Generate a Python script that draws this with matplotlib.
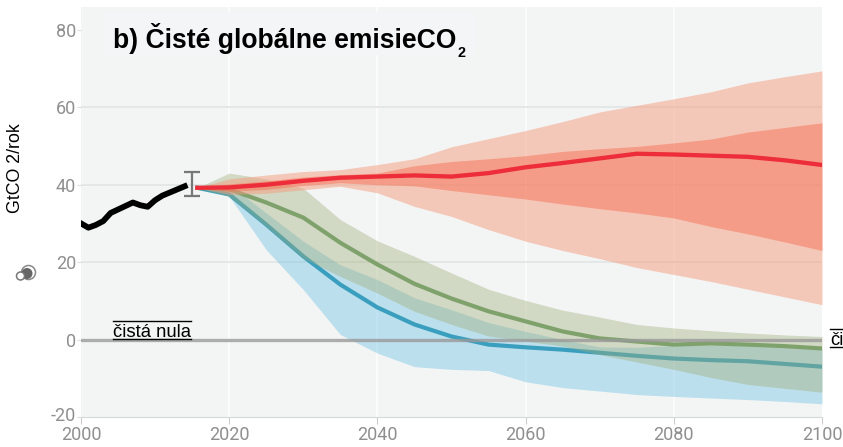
import matplotlib
matplotlib.use('Agg')
import matplotlib.pyplot as plt
from matplotlib.patches import Circle, Rectangle
from matplotlib.transforms import ScaledTranslation

plt.rcParams['axes.unicode_minus'] = False

# historical
hist_years = list(range(2000, 2015))
hist_vals = [30, 28.9, 29.6, 30.6, 32.7, 33.6, 34.5, 35.4, 34.7, 34.3, 36, 37.2, 38, 38.8, 39.6]

# scenarios, start + every 5 years
years = [2015.7] + list(range(2020, 2101, 5))

red_mid = [39.2, 39.3, 40, 41, 41.8, 42.1, 42.4, 42.1, 43, 44.5, 45.6, 46.8, 48, 47.8, 47.5, 47.2, 46.3, 45.1]
red_hi = [39.2, 41.5, 42.5, 43.4, 43.9, 45.2, 46.7, 49.8, 51.9, 54, 56.3, 58.8, 60.5, 62.2, 64, 66.3, 67.9, 69.4]
red_lo = [39.2, 37.5, 37.8, 38.7, 39.6, 37.9, 34.4, 31.8, 28.4, 25.4, 23, 20.9, 18.6, 16.8, 15, 13, 11, 9]
red_hi2 = [39.2, 40.2, 41, 42, 42.6, 43, 44.9, 46, 46.7, 47.5, 48.6, 49.3, 49.9, 50.8, 51.8, 53.6, 54.8, 56]
red_lo2 = [39.2, 38.3, 38.8, 39.8, 40.5, 40, 39.7, 38.5, 37.4, 36.3, 35, 33.8, 32.7, 31.4, 29.2, 27.3, 25.2, 23]

green_mid = [39.2, 38.8, 35.4, 31.5, 25, 19.4, 14.4, 10.6, 7.3, 4.7, 2.1, 0.3, -0.5, -1.3, -1, -1.3, -1.7, -2.3]
green_hi = [39.2, 43, 41.5, 39.1, 31, 25.5, 21.5, 17.2, 13, 10.1, 7.6, 5.8, 3.9, 3, 2.3, 1.7, 1.2, 0.8]
green_lo = [39.2, 37, 29.2, 21, 16.3, 12, 7.3, 3.9, 0.9, -0.4, -1.7, -3.9, -5.8, -7.7, -9.8, -11.6, -12.6, -13.6]

blue_mid = [39.2, 37.5, 29.7, 21.5, 14.2, 8.3, 3.9, 0.8, -1.3, -2, -2.6, -3.4, -4.2, -4.9, -5.3, -5.6, -6.3, -7]
blue_hi = [39.2, 40, 32.7, 25.4, 19.3, 15.5, 10.8, 7.7, 4.4, 2.1, 0, -1.9, -2, -1.5, -1.5, -1.5, -2, -2.5]
blue_lo = [39.2, 37, 23.2, 12.9, 1.3, -3.5, -7, -7.7, -8, -10.9, -12.4, -13.3, -14.2, -14.7, -15.1, -15.5, -16, -16.6]

err_year = 2015
err_lo = 37
err_hi = 43.4

x_ticks = [2000, 2020, 2040, 2060, 2080, 2100]
y_ticks = [-20, 0, 20, 40, 60, 80]

bg = '#f3f5f5'
W, H = 843, 447

fig = plt.figure(figsize=(W / 100, H / 100), dpi=100)
ax = fig.add_axes([81 / W, (H - 417) / H, 741 / W, 410 / H], facecolor=bg)
ax.set_xlim(2000, 2100)
ax.set_ylim(-19.9, 85.9)

for x in x_ticks[1:-1]:
    ax.axvline(x, color='#fbfbfb', lw=1.5, zorder=1)
for y in [20, 40, 60]:
    ax.axhline(y, color='#e2e5e5', lw=1.2, zorder=1)

ax.fill_between(years, blue_lo, blue_hi, color='#6bbee3', alpha=0.4, lw=0, zorder=2)
ax.plot(years, blue_mid, color='#3a9fbe', lw=3, solid_joinstyle='miter', zorder=3)
ax.fill_between(years, green_lo, green_hi, color='#a0ae78', alpha=0.4, lw=0, zorder=4)
ax.plot(years, green_mid, color='#7fa26c', lw=3, solid_joinstyle='miter', zorder=5)
ax.fill_between(years, red_lo, red_hi, color='#f59c7e', alpha=0.5, lw=0, zorder=6)
ax.fill_between(years, red_lo2, red_hi2, color='#f47257', alpha=0.5, lw=0, zorder=6)
ax.axhline(0, color='#9a9a9a', lw=2.4, alpha=0.8, zorder=7)
ax.plot(years, red_mid, color='#ee2d3a', lw=3.1, solid_joinstyle='miter', zorder=8)
ax.plot(hist_years, hist_vals, color='black', lw=4.2, solid_joinstyle='round', zorder=8)

ax.errorbar([err_year], [(err_lo + err_hi) / 2], yerr=[(err_hi - err_lo) / 2], color='#777777',
            elinewidth=1.6, capsize=5.5, capthick=1.6, zorder=8)

for s in ['top', 'left', 'right']:
    ax.spines[s].set_visible(False)
ax.spines['bottom'].set_color('#d5d8d8')
ax.set_xticks(x_ticks)
ax.set_yticks(y_ticks)
ax.tick_params(axis='x', length=5, color='#cccccc', labelcolor='#8f8f8f', labelsize=13, pad=1.5)
ax.tick_params(axis='y', length=3, color='#dddddd', labelcolor='#8f8f8f', labelsize=13, pad=0.5)
for t in ax.get_xticklabels() + ax.get_yticklabels():
    t.set_family(['Roboto', 'DejaVu Sans'])
# -20 sits a little above its tick
low = ax.get_yticklabels()[0]
low.set_transform(low.get_transform() + ScaledTranslation(0, 3 / 100, fig.dpi_scale_trans))

# overlay in pixel coordinates for the annotations
ov = fig.add_axes([0, 0, 1, 1], facecolor='none')
ov.set_xlim(0, W)
ov.set_ylim(H, 0)
ov.axis('off')

ov.add_patch(Rectangle((105, 12), 370, 43, color='#f4f5f6', lw=0, zorder=1))
ov.text(113, 48, 'b) Čisté globálne emisieCO', family='Liberation Sans', fontweight='bold',
        fontsize=19.1, color='black', va='baseline', zorder=2)
ov.text(458, 57, '2', family='Liberation Sans', fontweight='bold', fontsize=10.4, va='baseline', zorder=2)

ov.text(16, 168, 'GtCO 2/rok', family='Liberation Sans', fontsize=12.8, rotation=90,
        ha='center', va='center', color='black')

ov.text(113, 337, 'čistá nula', family='Liberation Sans', fontsize=13.3, va='baseline', color='black', zorder=3)
ov.plot([113, 191], [320.5, 320.5], color='black', lw=1, zorder=3)
ov.plot([113, 191], [338.5, 338.5], color='black', lw=1, zorder=3)
ov.text(830, 345, 'či', family='Liberation Sans', fontsize=13.3, va='baseline', color='black', zorder=3)
ov.plot([830, 843], [328.5, 328.5], color='black', lw=1, zorder=3)
ov.plot([830, 843], [346.5, 346.5], color='black', lw=1, zorder=3)

# small icon next to the axis
ov.add_patch(Circle((28.5, 272.5), 7, facecolor='none', edgecolor='#8a8a8a', lw=1.1))
ov.add_patch(Circle((27, 273.5), 5.5, facecolor='#666666', lw=0))
ov.add_patch(Circle((20.5, 276), 4, facecolor='white', edgecolor='#777777', lw=1.1))

fig.savefig('out.png', dpi=100)
